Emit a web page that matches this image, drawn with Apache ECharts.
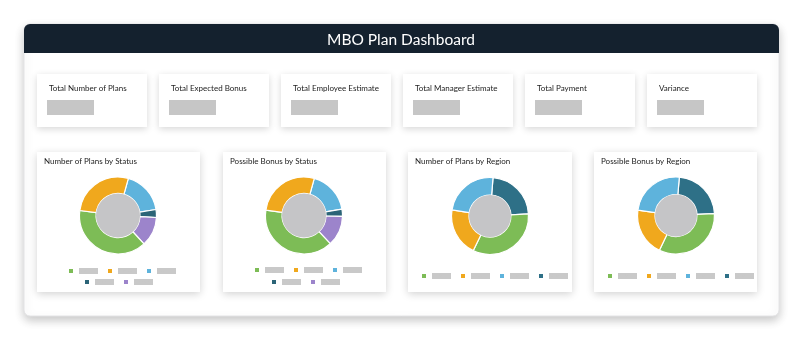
<!DOCTYPE html>
<html><head><meta charset="utf-8">
<script src="https://cdn.jsdelivr.net/npm/echarts@6/dist/echarts.min.js"></script>
<style>html,body{margin:0;padding:0;background:#ffffff;}#c{width:800px;height:342px;}</style>
</head><body><div id="c"></div><script>
// ---- data ----
const dashboardTitle = 'MBO Plan Dashboard';
const kpiLabels = ['Total Number of Plans', 'Total Expected Bonus', 'Total Employee Estimate', 'Total Manager Estimate', 'Total Payment', 'Variance'];
const chartTitles = ['Number of Plans by Status', 'Possible Bonus by Status', 'Number of Plans by Region', 'Possible Bonus by Region'];
const statusNames = ['Active', 'Pending', 'Draft', 'Closed', 'Rejected'];
const plansByStatus = [47, 33, 22, 4, 15];
const bonusByStatus = [117000, 81000, 54000, 9000, 38000];
const regionNames = ['North', 'South', 'East', 'West'];
const plansByRegion = [39, 24, 28, 27];
const bonusByRegion = [98000, 60000, 72000, 68000];

// ---- styling ----
const FONT = 'Lato, "Open Sans", sans-serif';
const statusColors = ['#7dbc56', '#f0a81d', '#5eb3dc', '#2b6477', '#9c84cb'];
const regionColors = ['#7dbc56', '#f0a81d', '#5eb3dc', '#2e7087'];
const statusOrder = [2, 3, 4, 0, 1];   // clockwise order of slices
const regionOrder = [3, 0, 1, 2];

function pieData(names, values, colors, order) {
  return order.map(i => ({ name: names[i], value: values[i], itemStyle: { color: colors[i] } }));
}

const graphic = [];
// outer container
graphic.push({ type: 'rect', z: 0, shape: { x: 24, y: 24, width: 755, height: 292, r: 6 },
  style: { fill: '#ffffff', stroke: '#e4e4e6', lineWidth: 1, shadowBlur: 10, shadowOffsetY: 4, shadowColor: 'rgba(0,0,0,0.22)' } });
// header
graphic.push({ type: 'rect', z: 1, shape: { x: 24, y: 24, width: 755, height: 29, r: [6, 6, 0, 0] },
  style: { fill: '#14212e' } });
graphic.push({ type: 'text', z: 2, x: 401, y: 40,
  style: { text: dashboardTitle, fill: '#ffffff', font: '15.5px ' + FONT, align: 'center', verticalAlign: 'middle' } });

// KPI cards
const kpiLefts = [37, 159, 281, 403, 525, 647];
kpiLabels.forEach((lab, i) => {
  const x = kpiLefts[i];
  graphic.push({ type: 'rect', z: 1, shape: { x: x, y: 74, width: 110, height: 53 },
    style: { fill: '#ffffff', shadowBlur: 7, shadowOffsetY: 2, shadowColor: 'rgba(0,0,0,0.16)' } });
  graphic.push({ type: 'text', z: 2, x: x + 12, y: 88,
    style: { text: lab, fill: '#222222', font: '8px ' + FONT, verticalAlign: 'middle' } });
  graphic.push({ type: 'rect', z: 2, shape: { x: x + 10, y: 100, width: 47, height: 15 },
    style: { fill: '#c6c6c6' } });
});

// chart cards
const cardBoxes = [[37, 163], [223, 163], [408, 164], [594, 163]];
cardBoxes.forEach(b => {
  graphic.push({ type: 'rect', z: 1, shape: { x: b[0], y: 152, width: b[1], height: 140 },
    style: { fill: '#ffffff', shadowBlur: 8, shadowOffsetY: 2, shadowColor: 'rgba(0,0,0,0.18)' } });
});

const titles = chartTitles.map((t, i) => ({
  text: t, left: cardBoxes[i][0] + 7, top: 157, padding: 0,
  textStyle: { fontSize: 8, fontWeight: 'normal', color: '#222222', fontFamily: FONT }
}));

const legendBase = {
  orient: 'horizontal', padding: 0, itemWidth: 6, itemHeight: 6, itemGap: 8, icon: 'rect',
  selectedMode: false,
  formatter: n => '{g|' + n + '}',
  textStyle: { rich: { g: { width: 19, height: 6, lineHeight: 6, fontSize: 4, backgroundColor: '#c9c9c9', color: '#c9c9c9', overflow: 'truncate' } } }
};
const legends = [
  Object.assign({}, legendBase, { left: 67, top: 267, data: statusNames.slice(0, 3) }),
  Object.assign({}, legendBase, { left: 83, top: 278, data: statusNames.slice(3) }),
  Object.assign({}, legendBase, { left: 253, top: 266, data: statusNames.slice(0, 3) }),
  Object.assign({}, legendBase, { left: 270, top: 278, data: statusNames.slice(3) }),
  Object.assign({}, legendBase, { left: 420, top: 272, data: regionNames }),
  Object.assign({}, legendBase, { left: 606, top: 272, data: regionNames })
];

const pies = [
  { center: [118, 215.5], inner: 22, start: 74.4, data: pieData(statusNames, plansByStatus, statusColors, statusOrder) },
  { center: [304, 215.5], inner: 22, start: 74.5, data: pieData(statusNames, bonusByStatus, statusColors, statusOrder) },
  { center: [490, 216], inner: 21, start: 85.5, data: pieData(regionNames, plansByRegion, regionColors, regionOrder) },
  { center: [676, 215.5], inner: 21, start: 85, data: pieData(regionNames, bonusByRegion, regionColors, regionOrder) }
];
const series = [];
pies.forEach(p => {
  series.push({ type: 'pie', center: p.center, radius: [p.inner, 38.5], startAngle: p.start, clockwise: true,
    avoidLabelOverlap: false, label: { show: false }, labelLine: { show: false },
    emphasis: { disabled: true }, animation: false,
    itemStyle: { borderColor: '#ffffff', borderWidth: 1.2 }, data: p.data });
  series.push({ type: 'pie', center: p.center, radius: [0, p.inner], silent: true, animation: false,
    label: { show: false }, labelLine: { show: false }, emphasis: { disabled: true },
    data: [{ value: 1, name: '', itemStyle: { color: '#c5c5c7' } }] });
});

const chart = echarts.init(document.getElementById('c'), null, { renderer: 'canvas' });
chart.setOption({
  backgroundColor: '#ffffff',
  animation: false,
  graphic: graphic,
  title: titles,
  legend: legends,
  tooltip: { show: false },
  series: series
});
</script></body></html>
